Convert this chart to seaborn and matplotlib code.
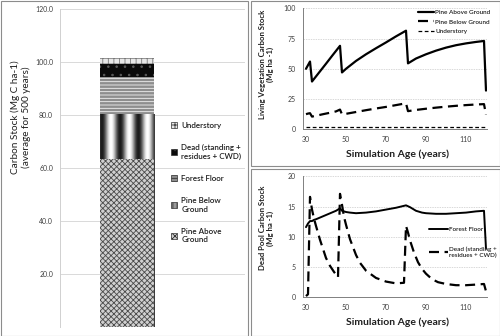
import numpy as np
import pandas as pd
import matplotlib
matplotlib.use("Agg")
import matplotlib.pyplot as plt
from matplotlib.patches import Patch, Rectangle
from matplotlib.lines import Line2D
import seaborn as sns

# ---------------- data ----------------
# Left panel: average carbon stock for 500 years (Mg C ha-1), bottom -> top
pools = ["Pine Above Ground", "Pine Below Ground", "Forest Floor",
         "Dead (standing + residues + CWD)", "Understory"]
legend_labels = ["Pine Above\nGround", "Pine Below\nGround", "Forest Floor",
                 "Dead (standing +\nresidues + CWD)", "Understory"]
avg_stock = [63.5, 16.9, 13.8, 5.0, 2.3]
left_ticks = [20, 40, 60, 80, 100, 120]

# Top right: living vegetation carbon stock
liv_ages = [30, 31, 32, 33, 35, 38, 40, 43, 45, 47, 48, 50, 55, 60, 65, 70, 75,
            80, 81, 85, 90, 95, 100, 105, 110, 115, 119, 120]
pine_above = [50, 53, 56, 39.5, 43.7, 50, 54.2, 60.6, 64.8, 69, 47, 50, 56.5, 62,
              67, 71.8, 76.8, 81.5, 54.5, 58.5, 62, 65, 67.5, 69.5, 71, 72.2, 73, 32]
pine_below = [12.5, 13, 13.3, 10.5, 11.2, 12.3, 13, 14, 14.8, 16.3, 12.3, 12.8, 14.3,
              15.8, 17.2, 18.5, 20, 21.5, 15, 16, 17, 17.9, 18.7, 19.4, 20, 20.5, 20.8, 12]
under_ages = [30, 120]
understory = [2.3, 2.3]

# Bottom right: dead pool carbon stock
ff_ages = [30, 31, 32, 33, 34, 35, 40, 45, 47, 48, 50, 52, 55, 60, 65, 70, 75, 80,
           82, 85, 88, 90, 95, 100, 105, 110, 115, 119, 120]
forest_floor = [11.6, 12.2, 12.6, 12.6, 12.8, 12.9, 13.6, 14.3, 14.7, 14.3, 14.1,
                14.0, 13.9, 14.0, 14.2, 14.5, 14.8, 15.2, 14.9, 14.3, 14.0, 13.9,
                13.8, 13.8, 13.9, 14.0, 14.2, 14.3, 8.0]
dead_ages = [30, 31, 32, 33, 34, 35, 37, 40, 42, 44, 46, 47, 48, 49, 50, 52, 55, 57,
             60, 65, 70, 75, 79, 80, 81, 82, 84, 86, 88, 90, 93, 96, 100, 105, 110,
             115, 119, 120]
dead = [0.2, 0.5, 16.6, 14.5, 13.0, 11.8, 9.5, 6.5, 5.2, 4.2, 3.3, 17.1, 15.3, 13.3,
        12.0, 9.6, 7.0, 5.7, 4.4, 3.2, 2.6, 2.3, 2.4, 11.8, 10.7, 9.4, 7.4, 5.8, 4.7,
        3.9, 3.0, 2.5, 2.2, 2.0, 2.0, 2.1, 2.2, 1.0]

age_ticks = [30, 50, 70, 90, 110]

# ---------------- style ----------------
sns.set_theme(style="white")
plt.rcParams["font.family"] = ["Lato", "DejaVu Sans"]
plt.rcParams["hatch.linewidth"] = 0.6

W, H = 500, 336
fig = plt.figure(figsize=(W / 100, H / 100), dpi=100)
fig.patch.set_facecolor("white")

def fx(px):
    return px / W

def fy(py):
    return 1 - py / H

# panel borders
border_col = "#8c8c8c"
for (x0, y0, x1, y1) in [(0.5, 0.5, 248, 335.5), (250.5, 0.5, 499.5, 166),
                         (250.5, 168.5, 499.5, 335.5)]:
    fig.patches.append(Rectangle((fx(x0), fy(y1)), fx(x1) - fx(x0), fy(y0) - fy(y1),
                                 transform=fig.transFigure, fill=False,
                                 edgecolor=border_col, lw=0.8))

tick_col = "#404040"
grid_col = "#d9d9d9"

# ---------------- left panel ----------------
axL = fig.add_axes([fx(60), fy(327), fx(245) - fx(60), fy(9) - fy(327)])
cum = np.cumsum(avg_stock)
styles = {
    "Pine Above Ground": dict(fc="#d0d0d0", ec="#4a4a4a", hatch="xxxxxx"),
    "Pine Below Ground": dict(fc="#808080", ec="#808080", hatch=None),
    "Forest Floor": dict(fc="#8e8e8e", ec="#f2f2f2", hatch="-----"),
    "Dead (standing + residues + CWD)": dict(fc="#0a0a0a", ec="#5a5a5a", hatch=".."),
    "Understory": dict(fc="#e8e8e8", ec="#7a7a7a", hatch="+++"),
}
bar_patches = {}
for i in range(len(pools) - 1, -1, -1):
    df = pd.DataFrame({"group": ["avg"], "value": [cum[i]]})
    n_before = len(axL.patches)
    sns.barplot(data=df, x="group", y="value", ax=axL, width=0.8,
                color=styles[pools[i]]["fc"], saturation=1, errorbar=None)
    p = axL.patches[n_before]
    st = styles[pools[i]]
    p.set_facecolor(st["fc"])
    p.set_edgecolor(st["ec"])
    p.set_linewidth(0)
    if st["hatch"]:
        p.set_hatch(st["hatch"])
    p.set_zorder(2 + (len(pools) - i))
    bar_patches[pools[i]] = p

# gradient stripes for Pine Below Ground
pb = bar_patches["Pine Below Ground"]
bx0, by0 = pb.get_x(), pb.get_y()
bw, bh = pb.get_width(), pb.get_height()
f = np.linspace(0, 1, 300)
grad = 0.5 + 0.5 * np.cos(2 * np.pi * (f - 0.2) * 3)
im = axL.imshow(grad[np.newaxis, :], extent=(bx0, bx0 + bw, by0, by0 + bh),
                cmap="gray", vmin=-0.12, vmax=1.0, aspect="auto",
                zorder=pb.get_zorder() + 0.5, interpolation="bilinear")
im.set_clip_path(pb)

axL.set_xlim(-0.99, 1.75)
axL.set_ylim(0, 120)
axL.set_yticks(left_ticks)
axL.set_yticklabels([f"{t:.1f}" for t in left_ticks])
axL.set_xticks([])
axL.set_xlabel("")
axL.set_ylabel("")
axL.yaxis.grid(True, color=grid_col, lw=0.7)
axL.set_axisbelow(True)
axL.tick_params(axis="y", length=0, pad=5, labelsize=5, labelcolor=tick_col)
for s in ["top", "right", "bottom"]:
    axL.spines[s].set_visible(False)
axL.spines["left"].set_color("#d0d0d0")
axL.spines["left"].set_linewidth(0.7)

leg_handles = []
for i in range(len(pools) - 1, -1, -1):
    st = styles[pools[i]]
    if pools[i] == "Pine Below Ground":
        h = Patch(facecolor="#9a9a9a", edgecolor="#303030", hatch="||||", lw=0.5)
    else:
        h = Patch(facecolor=st["fc"], edgecolor="#303030", hatch=st["hatch"], lw=0.5)
    leg_handles.append(h)
legL = axL.legend(leg_handles, legend_labels[::-1], loc="upper left",
                  bbox_to_anchor=(0.6, 0.645), frameon=False, fontsize=5.8,
                  handlelength=0.8, handleheight=0.8, handletextpad=0.5,
                  labelspacing=1.9, borderpad=0, borderaxespad=0)
for t in legL.get_texts():
    t.set_color("#202020")
    t.set_fontweight("semibold")

fig.text(fx(21), fy(117), "Carbon Stock (Mg C ha-1)\n(average for 500 years)",
         rotation=90, ha="center", va="center", fontsize=7.2, color="#202020",
         multialignment="center", linespacing=1.2)

# ---------------- right panels ----------------
def style_line_axes(ax, ymax, yticks):
    ax.set_xlim(28.5, 120.5)
    ax.set_ylim(0, ymax)
    ax.set_xticks(age_ticks)
    ax.set_yticks(yticks)
    ax.set_xlabel("")
    ax.set_ylabel("")
    ax.yaxis.grid(True, color=grid_col, lw=0.7, linestyle=(0, (1.5, 1)))
    ax.set_axisbelow(True)
    ax.tick_params(axis="both", length=2, width=0.6, color="#808080",
                   labelsize=5, labelcolor=tick_col, pad=2.5, direction="out")
    ax.tick_params(axis="y", length=0, pad=5)
    for s in ["top", "right"]:
        ax.spines[s].set_visible(False)
    for s in ["left", "bottom"]:
        ax.spines[s].set_color("#808080")
        ax.spines[s].set_linewidth(0.7)

axT = fig.add_axes([fx(303), fy(129.3), fx(487) - fx(303), fy(8.3) - fy(129.3)])
sns.lineplot(x=liv_ages, y=pine_above, ax=axT, color="black", lw=1.6,
             label="Pine Above Ground", estimator=None)
sns.lineplot(x=liv_ages, y=pine_below, ax=axT, color="black", lw=1.6,
             linestyle=(0, (4.5, 2.5)), label="Pine Below Ground", estimator=None)
sns.lineplot(x=under_ages, y=understory, ax=axT, color="black", lw=0.9,
             linestyle=(0, (3, 2)), label="Understory", estimator=None)
style_line_axes(axT, 100, [0, 25, 50, 75, 100])
legT = axT.legend(loc="upper left", bbox_to_anchor=(0.625, 0.99), frameon=False,
                  fontsize=4.6, handlelength=2.5, handletextpad=0.2,
                  labelspacing=0.65, borderpad=0, borderaxespad=0)
for t in legT.get_texts():
    t.set_color("#202020")
    t.set_fontweight("semibold")

axB = fig.add_axes([fx(303), fy(297.3), fx(487) - fx(303), fy(176.3) - fy(297.3)])
sns.lineplot(x=ff_ages, y=forest_floor, ax=axB, color="black", lw=1.4,
             label="Forest Floor", estimator=None)
sns.lineplot(x=dead_ages, y=dead, ax=axB, color="black", lw=1.6,
             linestyle=(0, (4.5, 2.5)), label="Dead (standing +\nresidues + CWD)",
             estimator=None)
style_line_axes(axB, 20, [0, 5, 10, 15, 20])
legB = axB.legend(loc="upper left", bbox_to_anchor=(0.685, 0.585), frameon=False,
                  fontsize=4.6, handlelength=2.9, handletextpad=0.2,
                  labelspacing=2.2, borderpad=0, borderaxespad=0)
for t in legB.get_texts():
    t.set_color("#202020")
    t.set_fontweight("semibold")

lab_kw = dict(ha="center", va="center", fontsize=7.5, fontweight="bold",
              color="#202020")
fig.text(fx(397), fy(154), "Simulation Age (years)", **lab_kw)
fig.text(fx(397), fy(322), "Simulation Age (years)", **lab_kw)
ylab_kw = dict(ha="center", va="center", fontsize=5.6, fontweight="bold",
               color="#202020", rotation=90, multialignment="center",
               linespacing=1.2)
fig.text(fx(266.5), fy(64), "Living Vegetation Carbon Stock\n(Mg ha -1)", **ylab_kw)
fig.text(fx(266.5), fy(228), "Dead Pool Carbon Stock\n(Mg ha -1)", **ylab_kw)

fig.savefig("out.png", dpi=100, facecolor="white")
